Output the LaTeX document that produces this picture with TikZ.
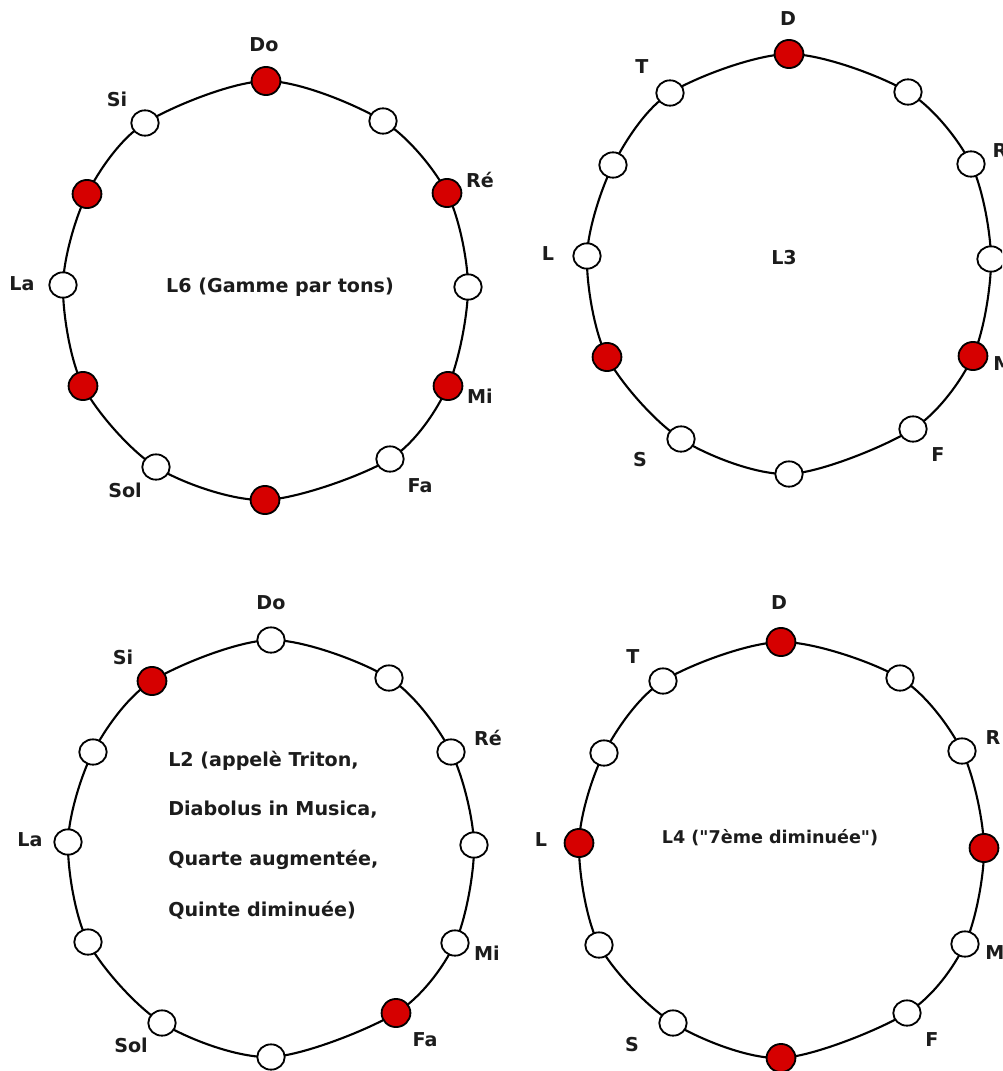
\documentclass[tikz,border=0pt]{standalone}
\usepackage{fontspec}
\setmainfont{DejaVu Sans}[Ligatures=TeXOff]
\usetikzlibrary{shapes.geometric}
\definecolor{notered}{RGB}{214,0,0}
\definecolor{ink}{RGB}{28,28,28}
\pgfdeclarelayer{back}
\pgfdeclarelayer{paper}
\pgfsetlayers{paper,back,main}
\begin{document}
\begin{tikzpicture}[x=0.025cm,y=-0.025cm,
  wheel/.style={line width=1.5pt,draw=black},
  pc/.style={ellipse,draw=black,line width=1.3pt,inner sep=0pt,
    minimum width=19.5pt,minimum height=18pt,fill=white},
  on/.style={pc,fill=notered,minimum width=20.5pt,minimum height=20pt},
  lbl/.style={font=\fontsize{13.6}{16}\selectfont\bfseries,text=ink,inner sep=0pt},
  title/.style={lbl,anchor=center},
  small/.style={font=\fontsize{12.5}{15}\selectfont\bfseries,text=ink,inner sep=0pt}]
\useasboundingbox (0,0) rectangle (1002,1071);
\begin{pgfonlayer}{paper}
\fill[white] (0,0) rectangle (1002,1071);
\end{pgfonlayer}
\clip (0,0) rectangle (1002,1071);

% ---------- L6 : whole-tone scale ----------
\node[on] (a1)  at (266,81)  {};
\node[pc] (a2)  at (383,121) {};
\node[on] (a3)  at (447,193) {};
\node[pc] (a4)  at (468,287) {};
\node[on] (a5)  at (448,386) {};
\node[pc] (a6)  at (390,459) {};
\node[on] (a7)  at (265,500) {};
\node[pc] (a8)  at (156,467) {};
\node[on] (a9)  at (83,386)  {};
\node[pc] (a10) at (63,285)  {};
\node[on] (a11) at (87,194)  {};
\node[pc] (a12) at (145,123) {};
\begin{pgfonlayer}{back}
\draw[wheel] plot[smooth cycle] coordinates {(a1.center) (a2.center) (a3.center) (a4.center)
  (a5.center) (a6.center) (a7.center) (a8.center) (a9.center) (a10.center) (a11.center) (a12.center)};
\end{pgfonlayer}
\node[lbl] (na1)  at (264,45)  {Do};
\node[lbl] (na3)  at (480,180) {Ré};
\node[lbl] (na5)  at (480,396) {Mi};
\node[lbl] (na6)  at (420,486) {Fa};
\node[lbl] (na8)  at (125,490) {Sol};
\node[lbl] (na10) at (22,284)  {La};
\node[lbl] (na12) at (117,99)  {Si};
\node[title] (ta) at (280,287) {L6 (Gamme par tons)};

% ---------- L3 : augmented triad ----------
\node[on] (b1)  at (789,54)  {};
\node[pc] (b2)  at (908,92)  {};
\node[pc] (b3)  at (971,164) {};
\node[pc] (b4)  at (991,259) {};
\node[on] (b5)  at (973,356) {};
\node[pc] (b6)  at (913,429) {};
\node[pc] (b7)  at (789,474) {};
\node[pc] (b8)  at (681,439) {};
\node[on] (b9)  at (607,357) {};
\node[pc] (b10) at (587,256) {};
\node[pc] (b11) at (613,165) {};
\node[pc] (b12) at (670,93)  {};
\begin{pgfonlayer}{back}
\draw[wheel] plot[smooth cycle] coordinates {(b1.center) (b2.center) (b3.center) (b4.center)
  (b5.center) (b6.center) (b7.center) (b8.center) (b9.center) (b10.center) (b11.center) (b12.center)};
\end{pgfonlayer}
\node[lbl] (nb1)  at (788,19)  {D};
\node[lbl] (nb3)  at (1000,151) {R};
\node[lbl] (nb5)  at (1003,364) {M};
\node[lbl] (nb6)  at (938,455) {F};
\node[lbl] (nb8)  at (640,460) {S};
\node[lbl] (nb10) at (548,254) {L};
\node[lbl] (nb12) at (642,67)  {T};
\node[title] (tb) at (784,258) {L3};

% ---------- L2 : tritone ----------
\node[pc] (c1)  at (271,640)  {};
\node[pc] (c2)  at (389,678)  {};
\node[pc] (c3)  at (451,752)  {};
\node[pc] (c4)  at (474,845)  {};
\node[pc] (c5)  at (455,943)  {};
\node[on] (c6)  at (396,1013) {};
\node[pc] (c7)  at (271,1057) {};
\node[pc] (c8)  at (162,1023) {};
\node[pc] (c9)  at (88,942)   {};
\node[pc] (c10) at (68,842)   {};
\node[pc] (c11) at (93,752)   {};
\node[on] (c12) at (152,681)  {};
\begin{pgfonlayer}{back}
\draw[wheel] plot[smooth cycle] coordinates {(c1.center) (c2.center) (c3.center) (c4.center)
  (c5.center) (c6.center) (c7.center) (c8.center) (c9.center) (c10.center) (c11.center) (c12.center)};
\end{pgfonlayer}
\node[lbl] (nc1)  at (271,603)  {Do};
\node[lbl] (nc3)  at (488,738)  {Ré};
\node[lbl] (nc5)  at (487,953)  {Mi};
\node[lbl] (nc6)  at (425,1040) {Fa};
\node[lbl] (nc8)  at (131,1045) {Sol};
\node[lbl] (nc10) at (30,840)   {La};
\node[lbl] (nc12) at (123,657)  {Si};
\node[lbl,anchor=west] (tc1) at (168,761) {L2 (appelè Triton,};
\node[lbl,anchor=west] (tc2) at (168,810) {Diabolus in Musica,};
\node[lbl,anchor=west] (tc3) at (168,860) {Quarte augmentée,};
\node[lbl,anchor=west] (tc4) at (168,910) {Quinte diminuée)};

% ---------- L4 : diminished seventh ----------
\node[on] (d1)  at (781,642)  {};
\node[pc] (d2)  at (900,678)  {};
\node[pc] (d3)  at (962,751)  {};
\node[on] (d4)  at (984,848)  {};
\node[pc] (d5)  at (965,944)  {};
\node[pc] (d6)  at (907,1013) {};
\node[on] (d7)  at (781,1058) {};
\node[pc] (d8)  at (673,1023) {};
\node[pc] (d9)  at (599,945)  {};
\node[on] (d10) at (579,843)  {};
\node[pc] (d11) at (604,753)  {};
\node[pc] (d12) at (663,681)  {};
\begin{pgfonlayer}{back}
\draw[wheel] plot[smooth cycle] coordinates {(d1.center) (d2.center) (d3.center) (d4.center)
  (d5.center) (d6.center) (d7.center) (d8.center) (d9.center) (d10.center) (d11.center) (d12.center)};
\end{pgfonlayer}
\node[lbl] (nd1)  at (779,603)  {D};
\node[lbl] (nd3)  at (993,738)  {R};
\node[lbl] (nd5)  at (995,953)  {M};
\node[lbl] (nd6)  at (932,1040) {F};
\node[lbl] (nd8)  at (632,1045) {S};
\node[lbl] (nd10) at (541,840)  {L};
\node[lbl] (nd12) at (633,657)  {T};
\node[small] (td) at (770,838) {L4 ("7ème diminuée")};
\end{tikzpicture}
\end{document}
